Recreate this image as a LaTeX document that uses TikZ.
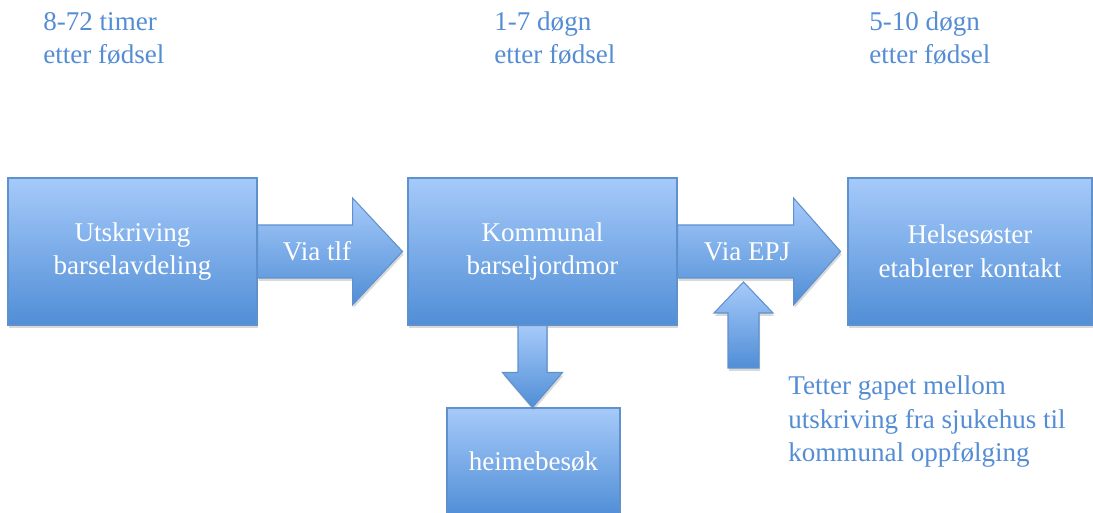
\documentclass[tikz,border=0pt]{standalone}
\usepackage{fontspec}
\setmainfont{Liberation Serif}
\usetikzlibrary{calc,shadows}

\definecolor{boxtop}{RGB}{166,202,250}
\definecolor{boxbot}{RGB}{80,142,214}
\definecolor{boxline}{RGB}{95,145,205}
\definecolor{notetext}{RGB}{84,141,212}

\begin{document}
\begin{tikzpicture}[
	% Define the styles for boxes, block arrows and labels
	every node/.style={font=\fontsize{15.4}{19.3}\selectfont},
	stagebox/.style={rectangle, draw=boxline, line width=0.6pt, top color=boxtop, bottom color=boxbot,
		drop shadow={opacity=0.3, shadow xshift=0.02, shadow yshift=-0.06},
		text=white, align=center, inner sep=0pt},
	blockarrow/.style={draw=boxline, line width=0.6pt, top color=boxtop, bottom color=boxbot,
		drop shadow={opacity=0.3, shadow xshift=0.02, shadow yshift=-0.06}},
	arrowtext/.style={text=white},
	timelabel/.style={text=notetext, align=left, anchor=base west, inner sep=0pt}
	]
	\useasboundingbox (0,0) rectangle (21.86,10.26);
	\clip (0,0) rectangle (21.86,10.26);
	
	% --- TIME LABELS ---
	% anchored at the baseline of the last line
	\node (t1) at (0.86, 8.98) [timelabel] {8-72 timer\\etter fødsel};
	\node (t2) at (9.88, 8.98) [timelabel] {1-7 døgn\\etter fødsel};
	\node (t3) at (17.38, 8.98) [timelabel] {5-10 døgn\\etter fødsel};
	
	% --- BOXES ---
	% Format: \node (name) at (x,y) [stagebox, size] {text};
	\node (utskr) at (2.65, 5.23) [stagebox, minimum width=4.98cm, minimum height=2.94cm] {Utskriving\\barselavdeling};
	\node (barsel) at (10.85, 5.23) [stagebox, minimum width=5.38cm, minimum height=2.94cm] {Kommunal\\barseljordmor};
	\node (helse) at (19.40, 5.23) [stagebox, minimum width=4.88cm, minimum height=2.94cm] {Helsesøster\\etablerer kontakt};
	\node (heime) at (10.67, 1.025) [stagebox, minimum width=3.46cm, minimum height=2.15cm] {heimebesøk};
	
	% --- BLOCK ARROWS ---
	\path[blockarrow] ($(utskr.east)+(0,0.53)$) -- ++(1.90,0) -- ++(0,0.54) -- ++(1.00,-1.07)
		-- ++(-1.00,-1.07) -- ++(0,0.54) -- ++(-1.90,0) -- cycle;
	\node (tlf) at (6.34, 5.23) [arrowtext] {Via tlf};
	
	\path[blockarrow] ($(barsel.east)+(0,0.53)$) -- ++(2.32,0) -- ++(0,0.54) -- ++(0.94,-1.07)
		-- ++(-0.94,-1.07) -- ++(0,0.54) -- ++(-2.32,0) -- cycle;
	\node (epj) at (14.94, 5.23) [arrowtext] {Via EPJ};
	
	\path[blockarrow] ($(barsel.south)+(-0.49,0)$) -- ++(0.58,0) -- ++(0,-0.94) -- ++(0.31,0)
		-- ++(-0.60,-0.70) -- ++(-0.60,0.70) -- ++(0.31,0) -- cycle;
	
	\path[blockarrow] (14.56, 2.90) -- ++(0.62,0) -- ++(0,1.10) -- ++(0.28,0)
		-- ++(-0.59,0.62) -- ++(-0.59,-0.62) -- ++(0.28,0) -- cycle;
	
	% --- NOTE ---
	\node (note) at (15.76, 1.02) [timelabel] {Tetter gapet mellom\\utskriving fra sjukehus til\\kommunal oppfølging};
	
\end{tikzpicture}
\end{document}
